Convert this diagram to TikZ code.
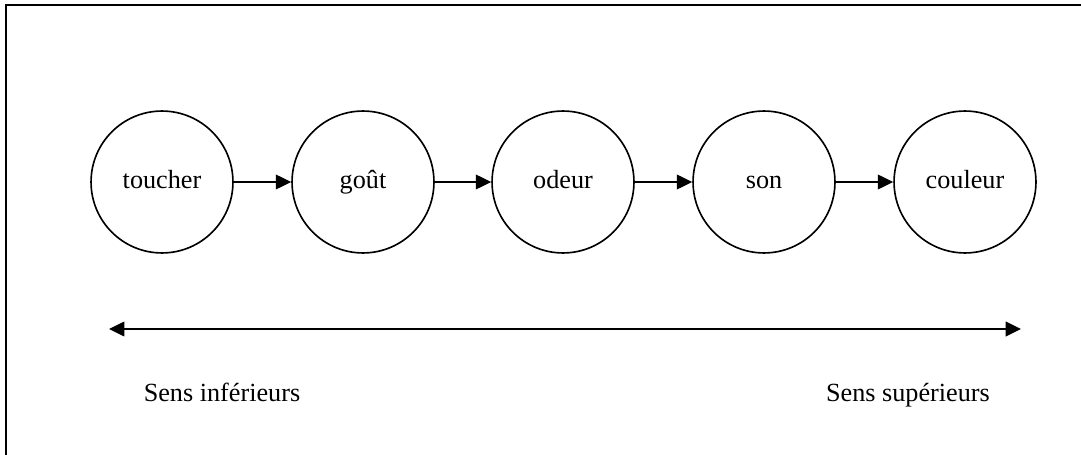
\documentclass[tikz,border=0pt]{standalone}
\usepackage{fontspec}
\setmainfont{Liberation Serif}
\usetikzlibrary{arrows.meta}
\tikzset{
  sense/.style={circle, draw, line width=0.75pt, minimum size=65pt, inner sep=0pt, text height=8pt, text depth=2.5pt, font=\fontsize{12}{14}\selectfont},
  flow/.style={line width=1pt, -{Triangle[length=7pt,width=6.6pt]}},
  label/.style={text height=8pt, text depth=2.5pt, font=\fontsize{12}{14}\selectfont}
}
\begin{document}
\begin{tikzpicture}[x=0.0161cm, y=-0.0161cm]
\useasboundingbox (0,0) rectangle (1081,455);
%cadre
\draw[line width=0.9pt] (6,455) -- (6,5) -- (1081,5);
\coordinate (C1) at (162,182);
\coordinate (C2) at (363,182);
\coordinate (C3) at (563,182);
\coordinate (C4) at (764,182);
\coordinate (C5) at (965,182);
\node[sense] (toucher) at (C1) {toucher};
\node[sense] (gout) at (C2) {goût};
\node[sense] (odeur) at (C3) {odeur};
\node[sense] (son) at (C4) {son};
\node[sense] (couleur) at (C5) {couleur};
\draw[flow] (toucher) -- (gout);
\draw[flow] (gout) -- (odeur);
\draw[flow] (odeur) -- (son);
\draw[flow] (son) -- (couleur);
%axe
\coordinate (L) at (109,329);
\coordinate (R) at (1021,329);
\draw[flow, {Triangle[length=7pt,width=6.6pt]}-{Triangle[length=7pt,width=6.6pt]}] (L) -- (R);
\node[label] (inf) at (222,395) {Sens inférieurs};
\node[label] (sup) at (908,395) {Sens supérieurs};
\end{tikzpicture}
\end{document}
